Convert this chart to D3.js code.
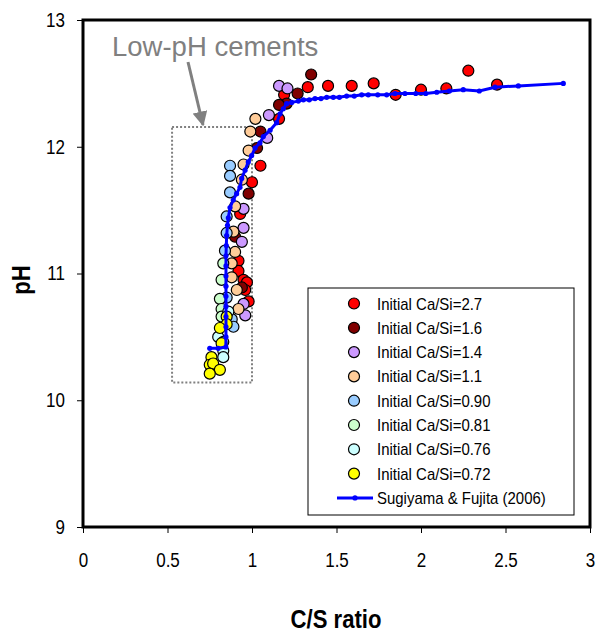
<!DOCTYPE html>
<html>
<head>
<meta charset="utf-8">
<script src="https://cdn.jsdelivr.net/npm/d3@7"></script>
<style>
  html, body { margin: 0; padding: 0; background: #fff; }
  svg { display: block; }
  text { font-family: "Liberation Sans", Arial, sans-serif; }
</style>
</head>
<body>
<svg id="chart" width="596" height="636"></svg>
<script>
// ---------- data ----------
const xTicks = [0, 0.5, 1, 1.5, 2, 2.5, 3];
const yTicks = [9, 10, 11, 12, 13];
const seriesNames = ["Initial Ca/Si=2.7", "Initial Ca/Si=1.6", "Initial Ca/Si=1.4", "Initial Ca/Si=1.1",
                     "Initial Ca/Si=0.90", "Initial Ca/Si=0.81", "Initial Ca/Si=0.76", "Initial Ca/Si=0.72"];
const seriesColors = ["#FF0000", "#800000", "#CC99FF", "#FFCC99", "#99CCFF", "#CCFFCC", "#CCFFFF", "#FFFF00"];
const lineName = "Sugiyama & Fujita (2006)";

const ca27 = [[2.28,12.60],[2.45,12.49],[2.15,12.46],[2.00,12.45],[1.85,12.41],[1.72,12.50],[1.59,12.48],
  [1.45,12.48],[1.33,12.47],[1.19,12.41],[1.16,12.22],[1.05,11.85],[1.00,11.72],[0.93,11.47],[0.92,11.10],
  [0.92,11.02],[0.95,10.95],[0.97,10.93],[0.96,10.87],[0.98,10.78]];
const ca16 = [[1.35,12.57],[1.27,12.42],[1.205,12.34],[1.16,12.33],[1.05,12.12],[1.03,11.99],[0.98,11.63],
  [0.90,11.29],[0.94,10.89]];
const ca14 = [[1.16,12.48],[1.21,12.46],[1.10,12.25],[1.09,12.07],[0.95,11.51],[0.95,11.36],[0.94,11.25],
  [0.95,10.76],[0.96,10.67]];
const ca11 = [[1.02,12.22],[0.99,12.12],[0.98,11.97],[0.95,11.86],[0.94,11.74],[0.90,11.53],[0.89,11.33],
  [0.90,11.17],[0.88,11.08],[0.88,10.97],[0.91,10.87],[0.92,10.72]];
const ca090 = [[0.87,11.85],[0.87,11.77],[0.87,11.64],[0.85,11.45],[0.85,11.32],[0.84,11.18],[0.85,10.81],
  [0.88,10.64],[0.89,10.58]];
const ca081 = [[0.83,11.08],[0.82,10.95],[0.81,10.80],[0.82,10.72],[0.82,10.66]];
const ca076 = [[0.86,10.70],[0.80,10.50],[0.83,10.46],[0.83,10.39],[0.83,10.34]];
const ca072 = [[0.85,10.66],[0.85,10.60],[0.81,10.57],[0.82,10.45],[0.76,10.34],[0.75,10.28],[0.77,10.29],
  [0.81,10.24],[0.75,10.21]];
const seriesData = [ca27, ca16, ca14, ca11, ca090, ca081, ca076, ca072];

const sugiyama = [[0.75,10.41],[0.80,10.41],[0.845,10.42],[0.846,10.50],[0.846,10.58],[0.846,10.66],
  [0.846,10.74],[0.846,10.82],[0.846,10.90],[0.846,10.98],[0.846,11.06],[0.846,11.14],[0.848,11.22],
  [0.85,11.30],[0.855,11.38],[0.86,11.44],[0.87,11.52],[0.889,11.58],[0.909,11.63],[0.929,11.68],
  [0.939,11.75],[0.959,11.815],[0.978,11.88],[0.998,11.93],[1.018,11.99],[1.047,12.03],[1.067,12.08],
  [1.107,12.13],[1.146,12.19],[1.166,12.26],[1.185,12.30],[1.205,12.34],[1.235,12.35],[1.274,12.36],
  [1.304,12.37],[1.339,12.37],[1.373,12.38],[1.408,12.38],[1.442,12.39],[1.481,12.39],[1.517,12.39],
  [1.56,12.40],[1.605,12.40],[1.649,12.41],[1.688,12.41],[1.744,12.41],[1.797,12.41],[1.846,12.42],
  [1.905,12.42],[1.969,12.42],[2.028,12.42],[2.093,12.43],[2.168,12.44],[2.25,12.45],[2.345,12.44],
  [2.438,12.47],[2.576,12.48],[2.842,12.50]];

const boxRange = {x: [0.527, 1.0], y: [10.14, 12.155]};
const annotation = "Low-pH cements";
const xTitle = "C/S ratio";
const yTitle = "pH";

// ---------- layout ----------
const W = 596, H = 636;
const m = {left: 83, right: 6, top: 20, bottom: 109};
const svg = d3.select("#chart");
const x = d3.scaleLinear().domain([0, 3]).range([m.left, W - m.right]);
const y = d3.scaleLinear().domain([9, 13]).range([H - m.bottom, m.top]);

// condense text horizontally (narrow face look)
function condense(sel, f) {
  sel.each(function() {
    const w = this.getComputedTextLength();
    d3.select(this).attr("textLength", w * f).attr("lengthAdjust", "spacingAndGlyphs");
  });
}

// axes
const gx = svg.append("g").attr("transform", `translate(0,${H - m.bottom})`)
  .call(d3.axisBottom(x).tickValues(xTicks).tickFormat(d3.format("")).tickSize(6).tickPadding(20));
const gy = svg.append("g").attr("transform", `translate(${m.left},0)`)
  .call(d3.axisLeft(y).tickValues(yTicks).tickFormat(d3.format("")).tickSize(6).tickPadding(12));
[gx, gy].forEach(g => {
  g.select(".domain").remove();
  g.selectAll("line").attr("stroke", "#000").attr("stroke-width", 1);
  g.selectAll("text").attr("font-family", "Liberation Sans, Arial, sans-serif")
    .attr("font-size", 20).attr("fill", "#000").call(condense, 0.85);
});

// low-pH box
svg.append("rect")
  .attr("x", x(boxRange.x[0])).attr("y", y(boxRange.y[1]))
  .attr("width", x(boxRange.x[1]) - x(boxRange.x[0]))
  .attr("height", y(boxRange.y[0]) - y(boxRange.y[1]))
  .attr("fill", "none").attr("stroke", "#808080").attr("stroke-width", 2).attr("stroke-dasharray", "2,2");

// annotation and arrow
svg.append("text").attr("x", 112).attr("y", 56)
  .attr("font-size", 27.5).attr("fill", "#808080").text(annotation);
svg.append("defs").append("marker").attr("id", "arr").attr("viewBox", "0 0 10 10")
  .attr("refX", 9).attr("refY", 5).attr("markerWidth", 5).attr("markerHeight", 5)
  .attr("markerUnits", "strokeWidth").attr("orient", "auto")
  .append("path").attr("d", "M0,0 L10,5 L0,10 z").attr("fill", "#808080");
svg.append("line").attr("x1", 188).attr("y1", 62).attr("x2", 203).attr("y2", 125)
  .attr("stroke", "#808080").attr("stroke-width", 3).attr("marker-end", "url(#arr)");

// scatter
seriesData.forEach((pts, i) => {
  svg.append("g").selectAll("circle").data(pts).join("circle")
    .attr("cx", d => x(d[0])).attr("cy", d => y(d[1])).attr("r", 5.5)
    .attr("fill", seriesColors[i]).attr("stroke", "#000").attr("stroke-width", 1.2);
});

// Sugiyama line
svg.append("path").datum(sugiyama)
  .attr("d", d3.line().x(d => x(d[0])).y(d => y(d[1])))
  .attr("fill", "none").attr("stroke", "#0000FF").attr("stroke-width", 3);
svg.append("g").selectAll("circle").data(sugiyama).join("circle")
  .attr("cx", d => x(d[0])).attr("cy", d => y(d[1])).attr("r", 2.6).attr("fill", "#0000FF");

// frame
svg.append("rect").attr("x", m.left).attr("y", m.top)
  .attr("width", W - m.left - m.right).attr("height", H - m.top - m.bottom)
  .attr("fill", "none").attr("stroke", "#000").attr("stroke-width", 3);

// legend
const lg = svg.append("g");
lg.append("rect").attr("x", 308).attr("y", 288).attr("width", 266).attr("height", 227)
  .attr("fill", "#fff").attr("stroke", "#000").attr("stroke-width", 1);
seriesNames.forEach((name, i) => {
  const cy = 303.5 + i * 24.3;
  lg.append("circle").attr("cx", 354).attr("cy", cy).attr("r", 5.5)
    .attr("fill", seriesColors[i]).attr("stroke", "#000").attr("stroke-width", 1.2);
  lg.append("text").attr("class", "lgt").attr("x", 377).attr("y", cy + 6)
    .attr("font-size", 17).attr("fill", "#000").text(name);
});
{
  const cy = 303.5 + 8 * 24.3;
  lg.append("line").attr("x1", 337).attr("x2", 373).attr("y1", cy).attr("y2", cy)
    .attr("stroke", "#0000FF").attr("stroke-width", 3);
  lg.append("circle").attr("cx", 355).attr("cy", cy).attr("r", 2.6).attr("fill", "#0000FF");
  lg.append("text").attr("class", "lgt").attr("x", 377).attr("y", cy + 6)
    .attr("font-size", 17).attr("fill", "#000").text(lineName);
}
lg.selectAll("text.lgt").call(condense, 0.88);

// axis titles
svg.append("text").attr("x", 336).attr("y", 628)
  .attr("text-anchor", "middle").attr("font-size", 26).attr("font-weight", "bold").text(xTitle)
  .call(condense, 0.85);
svg.append("text")
  .attr("transform", "translate(30,280) rotate(-90)")
  .attr("text-anchor", "middle").attr("font-size", 26).attr("font-weight", "bold").text(yTitle)
  .call(condense, 0.85);
</script>
</body>
</html>
